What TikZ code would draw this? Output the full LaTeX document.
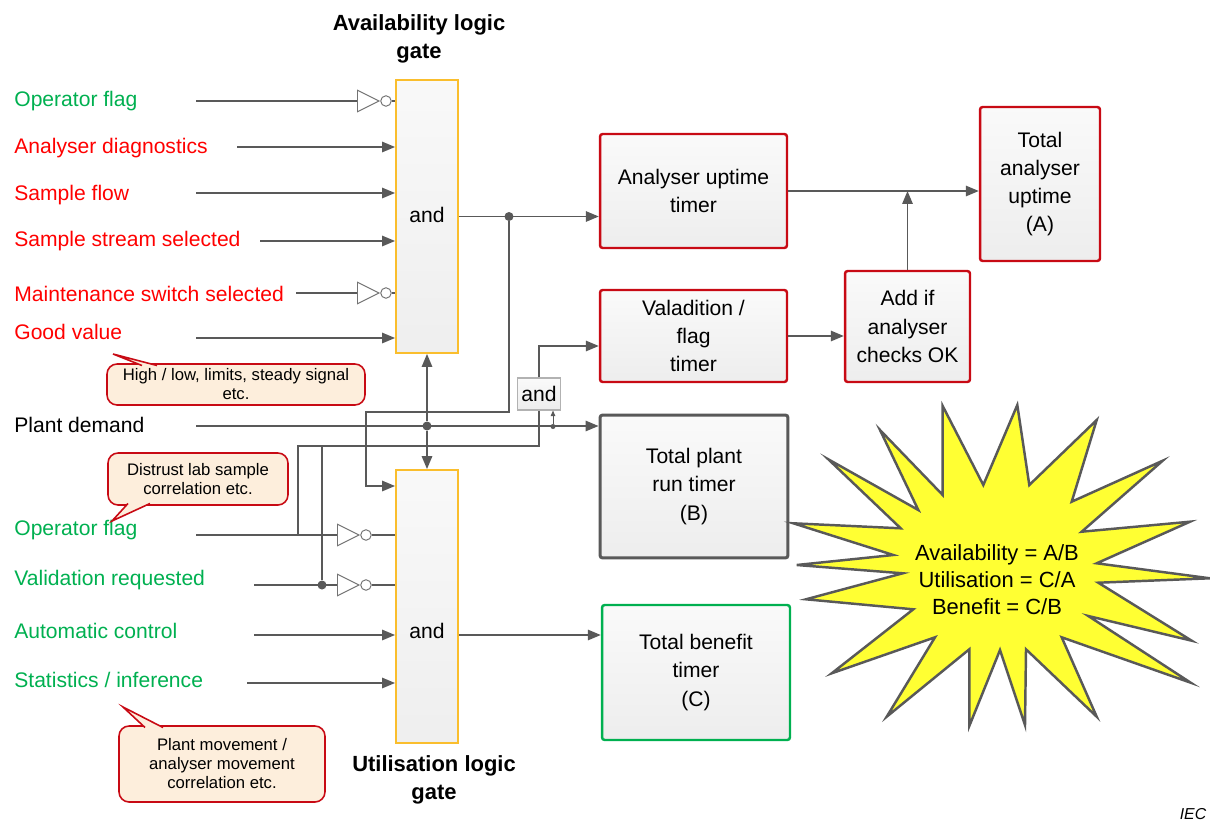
\documentclass[tikz,border=0pt]{standalone}
\usepackage{fontspec}
\setmainfont{Liberation Sans}
\usepackage{xcolor}
\usetikzlibrary{positioning, arrows.meta, shapes.geometric, calc}

\definecolor{iecred}{RGB}{200,10,20}
\definecolor{txtred}{RGB}{255,0,0}
\definecolor{iecgreen}{RGB}{0,176,80}
\definecolor{wiregray}{RGB}{89,89,89}
\definecolor{gateorange}{RGB}{250,190,45}
\definecolor{calfill}{RGB}{253,238,220}
\definecolor{burstyellow}{RGB}{255,255,51}

\begin{document}
\begin{tikzpicture}[
  x=0.02cm, y=-0.02cm,
  every node/.style={font=\fontsize{12}{16}\selectfont},
  wire/.style={draw=wiregray, line width=0.85pt},
  sig/.style={wire, -{Triangle[length=2.6mm,width=2.1mm]}},
  tinysig/.style={wire, line width=0.5pt, -{Triangle[length=1.1mm,width=0.9mm]}},
  dot/.style={circle, fill=wiregray, inner sep=0pt, minimum size=1.8mm},
  smalldot/.style={dot, minimum size=1mm},
  intxt/.style={anchor=west, inner sep=0pt},
  gate/.style={draw=gateorange, line width=1.1pt, top color=gray!5, bottom color=gray!13,
               minimum width=1.24cm, minimum height=5.46cm, inner sep=0pt},
  gatetxt/.style={inner sep=1pt},
  title/.style={font=\fontsize{12.5}{16}\selectfont\bfseries, align=center},
  box/.style={line width=1.4pt, rounded corners=1.5pt, top color=gray!4, bottom color=gray!14,
              align=center, inner sep=2pt},
  redbox/.style={box, draw=iecred},
  grybox/.style={box, draw=wiregray, line width=1.7pt},
  grnbox/.style={box, draw=iecgreen},
  inv/.style={isosceles triangle, isosceles triangle stretches, draw=black!55, fill=white,
              line width=0.55pt, inner sep=0pt, minimum width=0.43cm, minimum height=0.43cm,
              anchor=west},
  bub/.style={circle, draw=black!55, fill=white, line width=0.55pt, inner sep=0pt,
              minimum size=0.21cm},
  callout/.style={draw=iecred, line width=0.9pt, fill=calfill, rounded corners=0.2cm,
                  align=center, font=\fontsize{9.5}{10.8}\selectfont, inner sep=0pt},
  tail/.style={draw=iecred, line width=0.9pt, fill=calfill},
  burst/.style={draw=wiregray, line width=1.4pt, fill=burstyellow, line join=miter},
]
\useasboundingbox (0,0) rectangle (1210,821);

% --- input labels ---
\node[intxt, text=iecgreen] (l1)  at (14,101) {Operator flag};
\node[intxt, text=txtred]   (l2)  at (14,148) {Analyser diagnostics};
\node[intxt, text=txtred]   (l3)  at (14,195) {Sample flow};
\node[intxt, text=txtred]   (l4)  at (14,241) {Sample stream selected};
\node[intxt, text=txtred]   (l5)  at (14,294) {Maintenance switch selected};
\node[intxt, text=txtred]   (l6)  at (14,332) {Good value};
\node[intxt]                (l7)  at (14,425) {Plant demand};
\node[intxt, text=iecgreen] (l8)  at (14,530) {Operator flag};
\node[intxt, text=iecgreen] (l9)  at (14,580) {Validation requested};
\node[intxt, text=iecgreen] (l10) at (14,631) {Automatic control};
\node[intxt, text=iecgreen] (l11) at (14,680) {Statistics / inference};

% =========================================================
% Logic gates
% =========================================================
\node[title] (tA) at (419,39) {Availability logic\\gate};
\node[gate] (gA) at (427,216.5) {};
\node[gatetxt] (gAt) at (427,215) {and};

\node[title] (tU) at (434,780) {Utilisation logic\\gate};
\node[gate] (gU) at (427,606.5) {};
\node[gatetxt] (gUt) at (427,631) {and};

\node[draw=gray!60, line width=0.6pt, top color=gray!4, bottom color=gray!14,
      minimum width=0.86cm, minimum height=0.64cm, inner sep=0pt] (sAnd) at (539,394) {and};

% =========================================================
% Timers
% =========================================================
\node[redbox, minimum width=3.74cm, minimum height=2.28cm] (upt) at (693.5,191) {Analyser uptime\\timer};
\node[redbox, minimum width=3.74cm, minimum height=1.84cm] (val) at (693.5,336) {Valadition /\\flag\\timer};
\node[grybox, minimum width=3.76cm, minimum height=2.86cm] (run) at (694,486.5) {Total plant\\run timer\\(B)};
\node[grnbox, minimum width=3.76cm, minimum height=2.70cm] (ben) at (696,672.5) {Total benefit\\timer\\(C)};
\node[redbox, minimum width=2.50cm, minimum height=2.22cm] (add) at (907.5,326.5) {Add if\\analyser\\checks OK};
\node[redbox, minimum width=2.40cm, minimum height=3.08cm] (tot) at (1040,184) {Total\\analyser\\uptime\\(A)};

% =========================================================
% Availability gate inputs
% =========================================================
\coordinate (s1) at (196,101);
\coordinate (s2) at (237,147);
\coordinate (s3) at (196,193);
\coordinate (s4) at (260,241);
\coordinate (s5) at (296,293);
\coordinate (s6) at (196,338);

\node[inv] (i1) at (357,101) {};
\node[bub, right=0pt of i1] (b1) {};
\draw[wire] (s1) -- (i1);
\draw[wire] (b1.east) -- (b1 -| gA.west);
\draw[sig] (s2) -- (s2 -| gA.west);
\draw[sig] (s3) -- (s3 -| gA.west);
\draw[sig] (s4) -- (s4 -| gA.west);
\node[inv] (i5) at (357,293) {};
\node[bub, right=0pt of i5] (b5) {};
\draw[wire] (s5) -- (i5);
\draw[wire] (b5.east) -- (b5 -| gA.west);
\draw[sig] (s6) -- (s6 -| gA.west);

% =========================================================
% Plant demand and cross wiring
% =========================================================
\coordinate (spd) at (196,426);
\node[dot] (d2) at (gA.south |- spd) {};
\draw[sig] (spd) -- (spd -| run.west);
\draw[sig] (d2) -- (gA.south);
\draw[sig] (d2) -- (gU.north);
\node[smalldot] (d3) at (553,426.5) {};
\draw[tinysig] (d3) -- (d3 |- sAnd.south);

\node[dot] (d1) at (509,216.5) {};
\draw[sig] (gA.east) -- (gA.east -| upt.west);
\coordinate (lpA) at (366,412);
\coordinate (lpB) at (366,486);
\draw[sig] (d1) |- (lpA) -- (lpB) -- (lpB -| gU.west);

\coordinate (vy) at (0,346);
\draw[sig] (sAnd.north) |- (val.west |- vy);

% =========================================================
% Utilisation gate inputs
% =========================================================
\coordinate (s8)  at (196,535);
\coordinate (s9)  at (254,585);
\coordinate (s10) at (254,635);
\coordinate (s11) at (247,683);
\coordinate (hy)  at (0,446);
\coordinate (j1)  at (298,535);

\node[inv] (i8) at (337,535) {};
\node[bub, right=0pt of i8] (b8) {};
\draw[wire] (s8) -- (i8);
\draw[wire] (b8.east) -- (b8 -| gU.west);
\draw[wire] (j1) -- (j1 |- hy) -| (sAnd.south);

\node[dot] (d4) at (322,585) {};
\node[inv] (i9) at (337,585) {};
\node[bub, right=0pt of i9] (b9) {};
\draw[wire] (s9) -- (i9);
\draw[wire] (b9.east) -- (b9 -| gU.west);
\draw[wire] (d4) -- (d4 |- hy);

\draw[sig] (s10) -- (s10 -| gU.west);
\draw[sig] (s11) -- (s11 -| gU.west);
\draw[sig] (gU.east |- s10) -- (ben.west |- s10);

% =========================================================
% Timer outputs
% =========================================================
\draw[sig] (upt.east) -- (upt.east -| tot.west);
\draw[sig] (add.north) -- (add.north |- upt.east);
\draw[sig] (val.east) -- (val.east -| add.west);

% --- callouts ---
\node[callout, minimum width=5.16cm, minimum height=0.82cm] (c1) at (236,384.5)
  {High / low, limits, steady signal\\etc.};
\draw[tail] (142,365.5) -- (113,354) -- (157,365.5);
\node[callout, minimum width=3.60cm, minimum height=1.04cm] (c2) at (198,479)
  {Distrust lab sample\\correlation etc.};
\draw[tail] (128,503.5) -- (112,521) -- (150,503.5);
\node[callout, minimum width=4.12cm, minimum height=1.52cm] (c3) at (222,764)
  {Plant movement /\\analyser movement\\correlation etc.};
\draw[tail] (145,727.5) -- (123,707) -- (163,727.5);

% --- result burst ---
\draw[burst] (942.7,406) -- (983.3,485) -- (1017.3,405) -- (1029.3,485)
  -- (1096.7,420) -- (1071.7,501.7) -- (1162.7,460.7) -- (1081.7,531.7)
  -- (1190,521.7) -- (1096.7,563.3) -- (1210,578.3) -- (1098.3,582.7)
  -- (1191.7,640.7) -- (1088.3,616) -- (1190.7,682.7) -- (1061.7,637.3)
  -- (1096.7,716.7) -- (1026,649.3) -- (1025,725) -- (1000,650)
  -- (969.3,726) -- (969.3,649.3) -- (886.7,716.7) -- (935,637.3)
  -- (831.7,673.3) -- (913.3,609.3) -- (806,599.3) -- (902.7,573.3)
  -- (796.7,565) -- (893.3,555) -- (793.3,523.3) -- (900.7,528.3)
  -- (828.3,459.3) -- (918.3,510) -- (880,430) -- (942.7,495) -- cycle;
\node[align=center, font=\fontsize{12.5}{15.3}\selectfont] (res) at (997,580)
  {Availability = A/B\\Utilisation = C/A\\Benefit = C/B};

\node[font=\fontsize{9}{11}\selectfont\itshape] (iec) at (1193,814) {IEC};

\end{tikzpicture}
\end{document}
